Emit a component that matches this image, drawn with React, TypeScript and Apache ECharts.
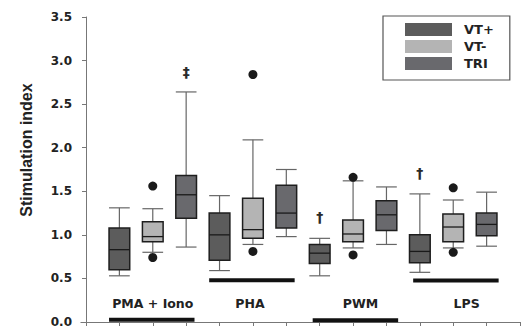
import React, { useEffect, useRef } from 'react';
import * as echarts from 'echarts';

const groups = ['PMA + Iono', 'PHA', 'PWM', 'LPS'];
const seriesNames = ['VT+', 'VT-', 'TRI'];
const seriesColors = ['#5c5c5c', '#b4b4b4', '#69696d'];

// [min, Q1, median, Q3, max] per group
const vtPlus = [
  [0.53, 0.6, 0.83, 1.08, 1.31],
  [0.59, 0.71, 1.0, 1.25, 1.45],
  [0.53, 0.67, 0.79, 0.89, 0.96],
  [0.57, 0.68, 0.81, 1.0, 1.47],
];
const vtMinus = [
  [0.8, 0.92, 0.98, 1.15, 1.3],
  [0.89, 0.96, 1.06, 1.42, 2.09],
  [0.85, 0.92, 1.01, 1.17, 1.62],
  [0.85, 0.92, 1.09, 1.24, 1.4],
];
const tri = [
  [0.86, 1.19, 1.46, 1.68, 2.64],
  [0.98, 1.08, 1.25, 1.57, 1.75],
  [0.89, 1.05, 1.23, 1.39, 1.55],
  [0.87, 0.99, 1.12, 1.25, 1.49],
];
const vtPlusOutliers: number[][] = [[], [], [], []];
const vtMinusOutliers = [
  [1.56, 0.74],
  [2.84, 0.81],
  [1.66, 0.77],
  [1.54, 0.8],
];
const triOutliers: number[][] = [[], [], [], []];

const sigMarks = ['‡', '†', '†'];
const sigGroup = [0, 2, 3];
const sigSeries = [2, 0, 0];
const sigValue = [2.87, 1.2, 1.71];

const yMin = 0;
const yMax = 3.5;
const yStep = 0.5;

// layout (data-space positions of annotations)
const groupLabelX = [2.0, 4.91, 8.22, 11.4];
const groupLabelY = 0.212;
const groupBarLevel = [0.025, 0.479, 0.02, 0.475];
const groupBarHalf = 1.28;
const groupBarShift = [-0.03, -0.03, 0.07, 0.08];

const allStats = [vtPlus, vtMinus, tri];
const allOutliers = [vtPlusOutliers, vtMinusOutliers, triOutliers];

const boxX = (g: number, s: number) => g * 3 + s + 1;

export default function App() {
  const ref = useRef<HTMLDivElement>(null);
  useEffect(() => {
    if (!ref.current) return;
    const chart = echarts.init(ref.current, undefined, { renderer: 'svg' });
    const whisker = { stroke: '#666', lineWidth: 1.2 };

    const boxSeries = seriesNames.map((name, s) => ({
      name,
      type: 'custom',
      itemStyle: { color: seriesColors[s] },
      encode: { x: 0, y: [1, 2, 3, 4, 5] },
      data: allStats[s].map((st, g) => [boxX(g, s), ...st]),
      renderItem: (params: any, api: any) => {
        const x = api.value(0);
        const v = [1, 2, 3, 4, 5].map((i) => api.coord([x, api.value(i)])[1]);
        const cx = api.coord([x, 0])[0];
        const half = api.size([1, 0])[0] * 0.31;
        const color = api.visual('color');
        return {
          type: 'group',
          children: [
            { type: 'line', shape: { x1: cx, y1: v[4], x2: cx, y2: v[3] }, style: whisker },
            { type: 'line', shape: { x1: cx, y1: v[1], x2: cx, y2: v[0] }, style: whisker },
            { type: 'line', shape: { x1: cx - half, y1: v[4], x2: cx + half, y2: v[4] }, style: whisker },
            { type: 'line', shape: { x1: cx - half, y1: v[0], x2: cx + half, y2: v[0] }, style: whisker },
            {
              type: 'rect',
              shape: { x: cx - half, y: v[3], width: half * 2, height: v[1] - v[3] },
              style: { fill: color, stroke: '#1e1e1e', lineWidth: 1.5 },
            },
            { type: 'line', shape: { x1: cx - half, y1: v[2], x2: cx + half, y2: v[2] }, style: { stroke: '#1a1a1a', lineWidth: 1.3 } },
          ],
        };
      },
    }));

    const outlierData: number[][] = [];
    allOutliers.forEach((arr, s) =>
      arr.forEach((vals, g) => vals.forEach((val) => outlierData.push([boxX(g, s), val])))
    );

    const option: any = {
      animation: false,
      grid: { left: 86, right: 3, top: 17, bottom: 6 },
      xAxis: {
        type: 'value',
        min: 0,
        max: 13,
        interval: 1,
        axisLabel: { show: false },
        axisLine: { show: true, lineStyle: { color: '#777', width: 1 } },
        axisTick: { show: true, length: 4, lineStyle: { color: '#777' } },
        splitLine: { show: false },
      },
      yAxis: {
        type: 'value',
        min: yMin,
        max: yMax,
        interval: yStep,
        offset: 5,
        axisLine: { show: true, lineStyle: { color: '#777', width: 1 } },
        axisTick: { show: true, length: 4, lineStyle: { color: '#777' } },
        splitLine: { show: false },
        axisLabel: {
          margin: 9,
          formatter: (v: number) => v.toFixed(1),
          fontFamily: 'DejaVu Sans',
          fontWeight: 'bold',
          fontSize: 12,
          color: '#222',
        },
      },
      legend: {
        data: seriesNames,
        orient: 'vertical',
        left: 383,
        top: 16,
        padding: [7, 16, 10, 22],
        itemWidth: 47,
        itemHeight: 13,
        itemGap: 4,
        icon: 'rect',
        selectedMode: false,
        borderColor: '#555',
        borderWidth: 1.2,
        itemStyle: { borderWidth: 0 },
        textStyle: {
          fontFamily: 'DejaVu Sans',
          fontWeight: 'bold',
          fontSize: 13,
          lineHeight: 13,
          color: '#222',
          padding: [0, 0, 0, 7],
        },
      },
      graphic: [
        {
          type: 'text',
          x: 26,
          y: 150,
          rotation: Math.PI / 2,
          style: {
            text: 'Stimulation index',
            fontFamily: 'Liberation Sans',
            fontWeight: 'bold',
            fontSize: 16,
            fill: '#222',
            align: 'center',
            verticalAlign: 'middle',
          },
        },
        {
          type: 'line',
          shape: { x1: 80.5, y1: 322.5, x2: 87, y2: 322.5 },
          style: { stroke: '#777', lineWidth: 1 },
        },
      ],
      series: [
        ...boxSeries,
        {
          type: 'scatter',
          symbol: 'circle',
          symbolSize: 9,
          itemStyle: { color: '#1a1a1a', opacity: 1 },
          data: outlierData,
          z: 5,
        },
        {
          type: 'custom',
          data: sigMarks.map((m, i) => [boxX(sigGroup[i], sigSeries[i]), sigValue[i]]),
          renderItem: (params: any, api: any) => {
            const p = api.coord([api.value(0), api.value(1)]);
            return {
              type: 'text',
              x: p[0],
              y: p[1],
              style: {
                text: sigMarks[params.dataIndex],
                fontFamily: 'DejaVu Sans',
                fontWeight: 'bold',
                fontSize: 14,
                fill: '#2a2a2a',
                align: 'center',
                verticalAlign: 'middle',
              },
            };
          },
        },
        {
          type: 'custom',
          data: groups.map((g, i) => [groupLabelX[i], groupLabelY]),
          renderItem: (params: any, api: any) => {
            const p = api.coord([api.value(0), api.value(1)]);
            return {
              type: 'text',
              x: p[0],
              y: p[1],
              style: {
                text: groups[params.dataIndex],
                fontFamily: 'DejaVu Sans',
                fontWeight: 'bold',
                fontSize: 12.5,
                fill: '#222',
                align: 'center',
                verticalAlign: 'middle',
              },
            };
          },
        },
        {
          type: 'custom',
          data: groups.map((g, i) => [boxX(i, 1) + groupBarShift[i], groupBarLevel[i]]),
          renderItem: (params: any, api: any) => {
            const c = api.value(0);
            const y = api.value(1);
            const a = api.coord([c - groupBarHalf, y]);
            const b = api.coord([c + groupBarHalf, y]);
            return {
              type: 'line',
              shape: { x1: a[0], y1: a[1], x2: b[0], y2: b[1] },
              style: { stroke: '#111', lineWidth: 4 },
            };
          },
        },
      ],
    };
    chart.setOption(option);
    return () => chart.dispose();
  }, []);
  return <div ref={ref} style={{ position: 'absolute', left: 0, top: 0, width: 523, height: 328 }} />;
}
